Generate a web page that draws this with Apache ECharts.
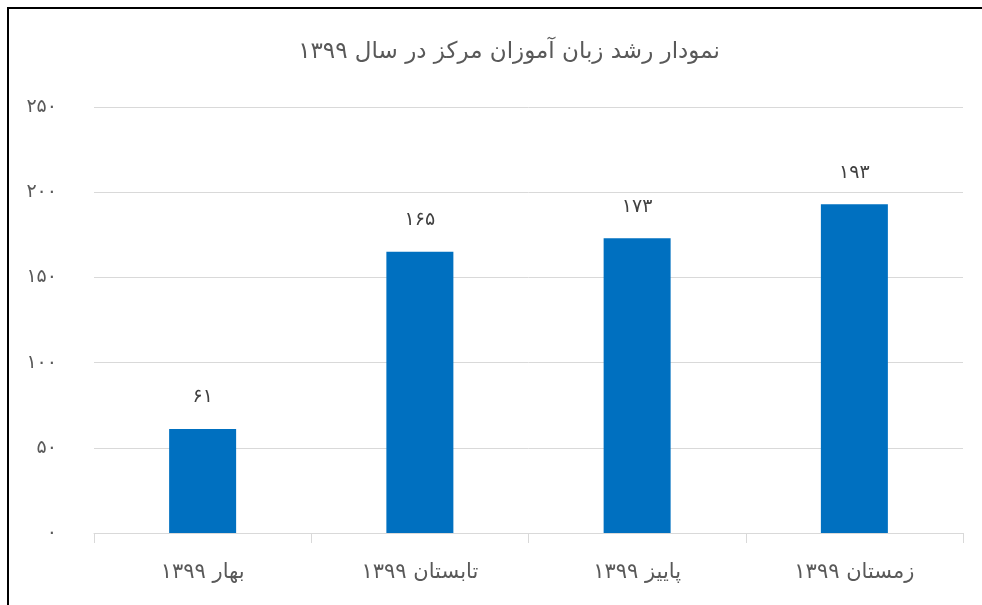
<!DOCTYPE html>
<html>
<head>
<meta charset="utf-8">
<script src="https://cdn.jsdelivr.net/npm/echarts@6/dist/echarts.min.js"></script>
<style>
html,body{margin:0;padding:0;background:#fff;}
#frame{position:absolute;left:7px;top:7px;width:975px;height:598px;border-left:2px solid #000;border-top:2px solid #000;box-sizing:border-box;}
#chart{position:absolute;left:0;top:0;width:982px;height:605px;}
</style>
</head>
<body>
<div id="frame"></div>
<div id="chart"></div>
<script>
var titleText = 'نمودار رشد زبان آموزان مرکز در سال ۱۳۹۹';
var categories = ['بهار ۱۳۹۹', 'تابستان ۱۳۹۹', 'پاییز ۱۳۹۹', 'زمستان ۱۳۹۹'];
var values = [61, 165, 173, 193];
var yTicks = [0, 50, 100, 150, 200, 250];

var FONT = 'DejaVu Sans';
function fa(n) {
  return String(n).replace(/[0-9]/g, function (d) { return '۰۱۲۳۴۵۶۷۸۹'[+d]; });
}

var chart = echarts.init(document.getElementById('chart'), null, {renderer: 'canvas'});
chart.setOption({
  backgroundColor: 'transparent',
  animation: false,
  title: {
    text: titleText,
    left: 504,
    textAlign: 'center',
    top: 36,
    textStyle: {fontFamily: FONT, fontSize: 23, fontWeight: 'normal', color: '#595959'}
  },
  grid: {left: 94, right: 19, top: 107, bottom: 72, containLabel: false},
  xAxis: {
    type: 'category',
    data: categories,
    axisLine: {show: true, lineStyle: {color: '#d9d9d9', width: 1}},
    axisTick: {show: true, length: 10, lineStyle: {color: '#d9d9d9'}},
    axisLabel: {fontFamily: FONT, fontSize: 21, color: '#595959', margin: 29}
  },
  yAxis: {
    type: 'value',
    min: yTicks[0],
    max: yTicks[yTicks.length - 1],
    interval: yTicks[1] - yTicks[0],
    axisLine: {show: false},
    axisTick: {show: false},
    splitLine: {lineStyle: {color: '#d9d9d9', width: 1}},
    axisLabel: {fontFamily: FONT, fontSize: 19, color: '#595959', margin: 37, formatter: function (v) { return fa(v); }}
  },
  series: [{
    type: 'bar',
    data: values,
    barWidth: 67,
    itemStyle: {color: '#0070C0'},
    label: {
      show: true,
      position: 'top',
      distance: 22,
      fontFamily: FONT,
      fontSize: 19,
      color: '#404040',
      formatter: function (p) { return fa(p.value); }
    }
  }]
});
</script>
</body>
</html>
